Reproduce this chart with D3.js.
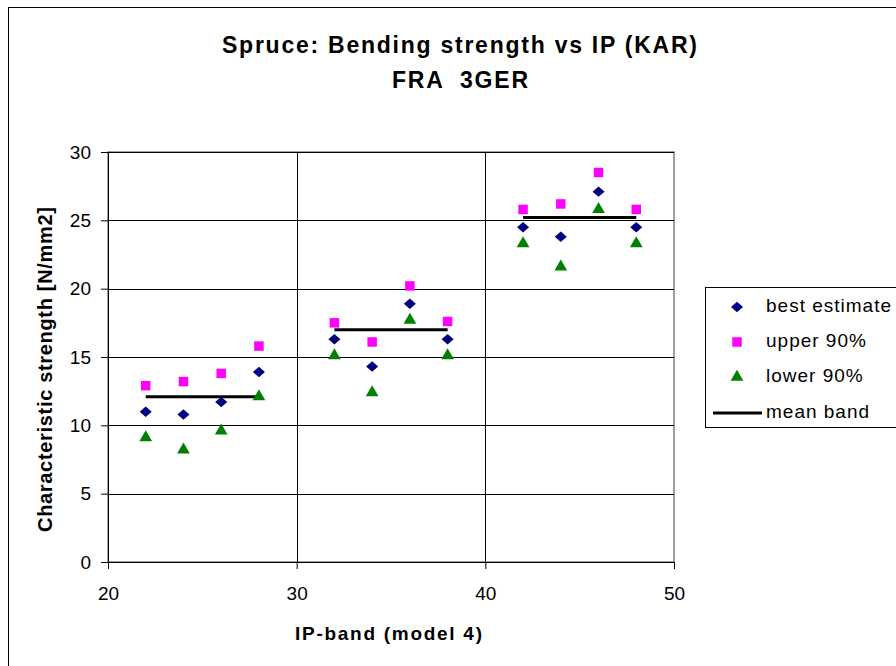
<!DOCTYPE html>
<html>
<head>
<meta charset="utf-8">
<script src="https://cdn.jsdelivr.net/npm/d3@7"></script>
<style>
  body { margin: 0; background: #fff; }
  text { font-family: "Liberation Sans", Arial, sans-serif; }
</style>
</head>
<body>
<div class="chart"></div>
<script>
// data
var ipBand = [22, 24, 26, 28, 32, 34, 36, 38, 42, 44, 46, 48];
var bestEstimate = [11.0, 10.8, 11.7, 13.9, 16.3, 14.3, 18.9, 16.3, 24.5, 23.8, 27.1, 24.5];
var upper90 = [12.9, 13.2, 13.8, 15.8, 17.5, 16.1, 20.2, 17.6, 25.8, 26.2, 28.5, 25.8];
var lower90 = [9.1, 8.2, 9.6, 12.1, 15.1, 12.4, 17.7, 15.1, 23.3, 21.6, 25.8, 23.3];
var bandStart = [22, 32, 42];
var bandEnd = [28, 38, 48];
var bandMean = [12.1, 17.0, 25.2];
var xTicks = [20, 30, 40, 50];
var yTicks = [0, 5, 10, 15, 20, 25, 30];

var svgWidth = 896, svgHeight = 666;
var plot = {left: 108, top: 152, right: 674, bottom: 562};

var svg = d3.select(".chart").append("svg")
  .attr("width", svgWidth)
  .attr("height", svgHeight);

// outer chart frame
svg.append("rect")
  .attr("x", 8.5).attr("y", 7.5)
  .attr("width", 900).attr("height", 700)
  .attr("fill", "#fff").attr("stroke", "#000").attr("stroke-width", 1);

var x = d3.scaleLinear().domain([20, 50]).range([plot.left, plot.right]);
var y = d3.scaleLinear().domain([0, 30]).range([plot.bottom, plot.top]);

// plot area border
svg.append("rect")
  .attr("x", plot.left).attr("y", plot.top)
  .attr("width", plot.right - plot.left).attr("height", plot.bottom - plot.top)
  .attr("fill", "#fff").attr("stroke", "#808080").attr("stroke-width", 1.5);

// gridlines
svg.append("g").selectAll("line")
  .data(yTicks.slice(1))
  .enter().append("line")
  .attr("x1", plot.left).attr("x2", plot.right)
  .attr("y1", function(d) { return Math.round(y(d)) + 0.5; })
  .attr("y2", function(d) { return Math.round(y(d)) + 0.5; })
  .attr("stroke", "#000").attr("stroke-width", 1);

svg.append("g").selectAll("line")
  .data(xTicks.slice(1, 3))
  .enter().append("line")
  .attr("y1", plot.top).attr("y2", plot.bottom)
  .attr("x1", function(d) { return Math.round(x(d)) + 0.5; })
  .attr("x2", function(d) { return Math.round(x(d)) + 0.5; })
  .attr("stroke", "#000").attr("stroke-width", 1);

// axes
var xAxis = d3.axisBottom(x).tickValues(xTicks).tickSize(7).tickSizeOuter(0).tickPadding(18);
var yAxis = d3.axisLeft(y).tickValues(yTicks).tickSize(7).tickSizeOuter(0).tickPadding(10);

var gx = svg.append("g")
  .attr("transform", "translate(0," + plot.bottom + ")")
  .call(xAxis);
var gy = svg.append("g")
  .attr("transform", "translate(" + plot.left + ",0)")
  .call(yAxis);

[gx, gy].forEach(function(g) {
  g.selectAll("path, line").attr("stroke", "#000");
  g.selectAll("text")
    .attr("fill", "#000")
    .style("font-family", "'Liberation Sans', Arial, sans-serif")
    .style("font-size", "19px");
});

// mean band lines
svg.append("g").selectAll("line")
  .data(bandMean)
  .enter().append("line")
  .attr("x1", function(d, i) { return x(bandStart[i]); })
  .attr("x2", function(d, i) { return x(bandEnd[i]); })
  .attr("y1", function(d) { return y(d); })
  .attr("y2", function(d) { return y(d); })
  .attr("stroke", "#000").attr("stroke-width", 3);

// markers
var diamond = d3.symbol().type(d3.symbolDiamond2).size(70);
var square = d3.symbol().type(d3.symbolSquare).size(90);
var triangle = d3.symbol().type(d3.symbolTriangle).size(70);

svg.append("g").selectAll("path")
  .data(lower90)
  .enter().append("path")
  .attr("d", triangle)
  .attr("transform", function(d, i) { return "translate(" + x(ipBand[i]) + "," + y(d) + ")"; })
  .attr("fill", "#008000");

svg.append("g").selectAll("path")
  .data(upper90)
  .enter().append("path")
  .attr("d", square)
  .attr("transform", function(d, i) { return "translate(" + x(ipBand[i]) + "," + y(d) + ")"; })
  .attr("fill", "#ff00ff");

svg.append("g").selectAll("path")
  .data(bestEstimate)
  .enter().append("path")
  .attr("d", diamond)
  .attr("transform", function(d, i) { return "translate(" + x(ipBand[i]) + "," + y(d) + ") scale(1.15,1)"; })
  .attr("fill", "#000080");

// titles
svg.append("text")
  .attr("x", 459.5).attr("y", 53)
  .attr("text-anchor", "middle")
  .attr("textLength", 475).attr("lengthAdjust", "spacing")
  .style("font-size", "23px").style("font-weight", "bold")
  .text("Spruce: Bending strength vs IP (KAR)");
svg.append("text")
  .attr("x", 460).attr("y", 88)
  .attr("text-anchor", "middle")
  .attr("textLength", 136).attr("lengthAdjust", "spacing")
  .style("font-size", "23px").style("font-weight", "bold")
  .style("white-space", "pre")
  .text("FRA  3GER");

svg.append("text")
  .attr("x", 388.5).attr("y", 640)
  .attr("text-anchor", "middle")
  .attr("textLength", 187).attr("lengthAdjust", "spacing")
  .style("font-size", "19px").style("font-weight", "bold")
  .text("IP-band (model 4)");

svg.append("text")
  .attr("transform", "translate(52,369.5) rotate(-90)")
  .attr("text-anchor", "middle")
  .attr("textLength", 325).attr("lengthAdjust", "spacing")
  .style("font-size", "20px").style("font-weight", "bold")
  .text("Characteristic strength [N/mm2]");

// legend
var legendItems = ["best estimate", "upper 90%", "lower 90%", "mean band"];
var legend = svg.append("g").attr("transform", "translate(705,287)");
legend.append("rect")
  .attr("x", 0.5).attr("y", 0.5)
  .attr("width", 200).attr("height", 140)
  .attr("fill", "#fff").attr("stroke", "#000");

var rowY = [20, 55, 90, 126];
legend.selectAll("text")
  .data(legendItems)
  .enter().append("text")
  .attr("x", 61)
  .attr("y", function(d, i) { return rowY[i] + 5; })
  .style("font-size", "19px")
  .style("letter-spacing", "1px")
  .text(function(d) { return d; });

legend.append("path").attr("d", diamond)
  .attr("transform", "translate(32," + rowY[0] + ") scale(1.15,1)").attr("fill", "#000080");
legend.append("path").attr("d", square)
  .attr("transform", "translate(32," + rowY[1] + ")").attr("fill", "#ff00ff");
legend.append("path").attr("d", triangle)
  .attr("transform", "translate(32," + rowY[2] + ")").attr("fill", "#008000");
legend.append("line")
  .attr("x1", 8).attr("x2", 57)
  .attr("y1", rowY[3]).attr("y2", rowY[3])
  .attr("stroke", "#000").attr("stroke-width", 3);
</script>
</body>
</html>
